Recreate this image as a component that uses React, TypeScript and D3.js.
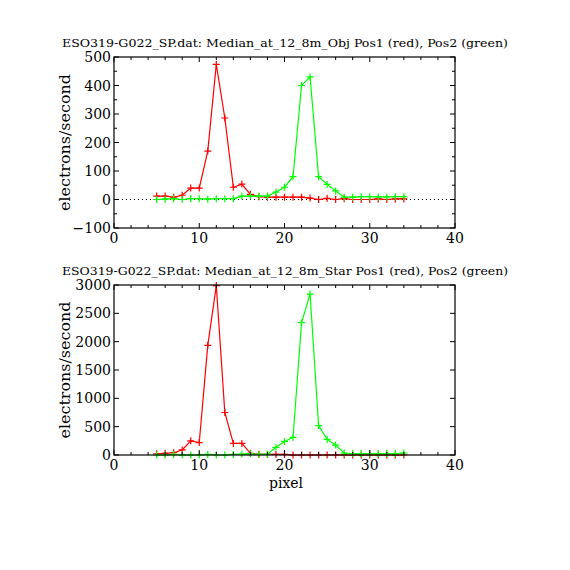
import React from "react";
import * as d3 from "d3";

const pixels = [5,6,7,8,9,10,11,12,13,14,15,16,17,18,19,20,21,22,23,24,25,26,27,28,29,30,31,32,33,34];

const objPos1 = [12,12,8,15,40,40,170,474,286,43,54,18,10,8,8,8,8,8,5,0,4,0,3,0,0,0,2,0,2,2];
const objPos2 = [0,1,3,0,3,3,1,3,3,3,12,12,12,12,26,43,80,400,430,80,53,30,8,8,10,10,9,9,10,10];

const starPos1 = [20,30,40,90,250,220,1935,2990,750,205,205,30,12,10,10,10,0,0,0,0,0,0,0,0,0,0,0,0,0,0];
const starPos2 = [0,0,10,0,0,0,10,0,0,10,15,20,10,15,135,240,310,2335,2840,520,275,175,35,25,25,25,25,25,25,35];

const title1 = "ESO319-G022_SP.dat: Median_at_12_8m_Obj Pos1 (red), Pos2 (green)";
const title2 = "ESO319-G022_SP.dat: Median_at_12_8m_Star Pos1 (red), Pos2 (green)";
const yLabel = "electrons/second";
const xLabel = "pixel";
const xTicks = [0, 10, 20, 30, 40];
const yTicks1 = [-100, 0, 100, 200, 300, 400, 500];
const yTicks2 = [0, 500, 1000, 1500, 2000, 2500, 3000];

const FONT = "'DejaVu Serif', 'Liberation Serif', serif";

type PanelProps = {
  top: number;
  bottom: number;
  yDomain: [number, number];
  yTicks: number[];
  yMinor: number[];
  title: string;
  s1: number[];
  s2: number[];
  zeroLine: boolean;
  showXLabel: boolean;
};

function Panel(p: PanelProps) {
  const left = 114, right = 455;
  const x = d3.scaleLinear().domain([0, 40]).range([left, right]);
  const y = d3.scaleLinear().domain(p.yDomain).range([p.bottom, p.top]);
  const line = d3.line<number>().x((_, i) => x(pixels[i])).y((v) => y(v));
  const xMinor = d3.range(0, 41, 2).filter((v) => v % 10 !== 0);
  const plus = (vals: number[], color: string) =>
    vals.map((v, i) => {
      const cx = x(pixels[i]), cy = y(v);
      return (
        <path key={i} d={`M${cx - 3.5},${cy}H${cx + 3.5}M${cx},${cy - 3.5}V${cy + 3.5}`} stroke={color} strokeWidth={1.2} />
      );
    });
  return (
    <g>
      <text x={285} y={p.top - 10} textAnchor="middle" fontFamily={FONT} fontSize={11} textLength={446} lengthAdjust="spacingAndGlyphs">
        {p.title}
      </text>
      {p.zeroLine && (
        <line x1={left} x2={right} y1={y(0)} y2={y(0)} stroke="#000" strokeWidth={1} strokeDasharray="1,3" />
      )}
      <path d={line(p.s1) || ""} fill="none" stroke="#ff0000" strokeWidth={1.2} />
      {plus(p.s1, "#ff0000")}
      <path d={line(p.s2) || ""} fill="none" stroke="#00ff00" strokeWidth={1.2} />
      {plus(p.s2, "#00ff00")}
      <rect x={left} y={p.top} width={right - left} height={p.bottom - p.top} fill="none" stroke="#000" strokeWidth={1.2} />
      {xTicks.map((t) => (
        <g key={"xt" + t}>
          <line x1={x(t)} x2={x(t)} y1={p.bottom} y2={p.bottom - 5} stroke="#000" />
          <line x1={x(t)} x2={x(t)} y1={p.top} y2={p.top + 5} stroke="#000" />
          <text x={x(t)} y={p.bottom + 15} textAnchor="middle" fontFamily={FONT} fontSize={14}>
            {t}
          </text>
        </g>
      ))}
      {xMinor.map((t) => (
        <g key={"xm" + t}>
          <line x1={x(t)} x2={x(t)} y1={p.bottom} y2={p.bottom - 3} stroke="#000" />
          <line x1={x(t)} x2={x(t)} y1={p.top} y2={p.top + 3} stroke="#000" />
        </g>
      ))}
      {p.yTicks.map((t) => (
        <g key={"yt" + t}>
          <line x1={left} x2={left + 5} y1={y(t)} y2={y(t)} stroke="#000" />
          <line x1={right} x2={right - 5} y1={y(t)} y2={y(t)} stroke="#000" />
          <text x={left - 3} y={y(t) + 5} textAnchor="end" fontFamily={FONT} fontSize={14}>
            {t < 0 ? "\u2212" + Math.abs(t) : t}
          </text>
        </g>
      ))}
      {p.yMinor.map((t) => (
        <g key={"ym" + t}>
          <line x1={left} x2={left + 3} y1={y(t)} y2={y(t)} stroke="#000" />
          <line x1={right} x2={right - 3} y1={y(t)} y2={y(t)} stroke="#000" />
        </g>
      ))}
      <text
        transform={`translate(70,${(p.top + p.bottom) / 2}) rotate(-90)`}
        textAnchor="middle"
        fontFamily={FONT}
        fontSize={14}
        textLength={137}
        lengthAdjust="spacingAndGlyphs"
      >
        {yLabel}
      </text>
      {p.showXLabel && (
        <text x={286} y={p.bottom + 33} textAnchor="middle" fontFamily={FONT} fontSize={14}>
          {xLabel}
        </text>
      )}
    </g>
  );
}

export default function App() {
  return (
    <svg width={570} height={570} style={{ position: "absolute", left: 0, top: 0, background: "#fff" }}>
      <rect width={570} height={570} fill="#fff" />
      <Panel
        top={57}
        bottom={228}
        yDomain={[-100, 500]}
        yTicks={yTicks1}
        yMinor={[-50, 50, 150, 250, 350, 450]}
        title={title1}
        s1={objPos1}
        s2={objPos2}
        zeroLine={true}
        showXLabel={false}
      />
      <Panel
        top={285}
        bottom={455}
        yDomain={[0, 3000]}
        yTicks={yTicks2}
        yMinor={[]}
        title={title2}
        s1={starPos1}
        s2={starPos2}
        zeroLine={false}
        showXLabel={true}
      />
    </svg>
  );
}
